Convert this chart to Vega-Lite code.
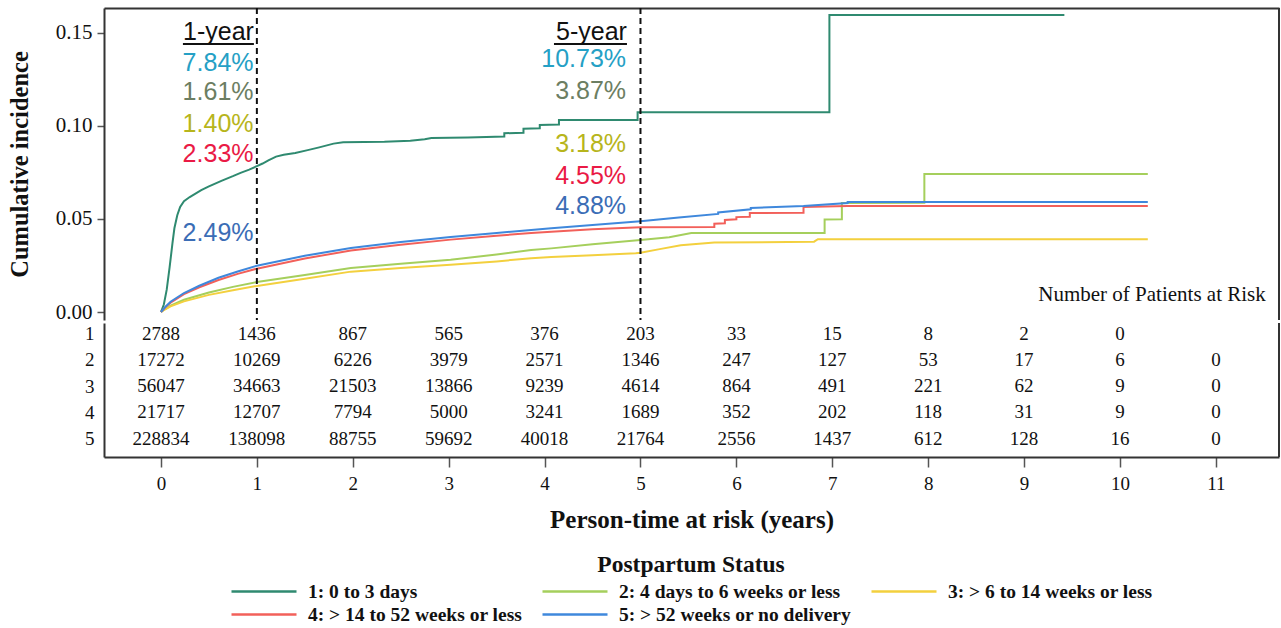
{
  "$schema": "https://vega.github.io/schema/vega-lite/v6.json",
  "background": "white",
  "padding": {"left": 7, "top": 7, "right": 0, "bottom": 2},
  "spacing": 0,
  "datasets": {
    "ci": [
      {"g":"1","t":0,"v":0},{"g":"1","t":0.03,"v":0.004},{"g":"1","t":0.06,"v":0.012},{"g":"1","t":0.09,"v":0.024},{"g":"1","t":0.12,"v":0.037},{"g":"1","t":0.14,"v":0.045},{"g":"1","t":0.17,"v":0.052},{"g":"1","t":0.2,"v":0.0565},{"g":"1","t":0.24,"v":0.0595},{"g":"1","t":0.3,"v":0.0618},{"g":"1","t":0.42,"v":0.0655},{"g":"1","t":0.5,"v":0.0675},{"g":"1","t":0.63,"v":0.0705},{"g":"1","t":0.75,"v":0.073},{"g":"1","t":0.83,"v":0.0748},{"g":"1","t":0.92,"v":0.0765},{"g":"1","t":1,"v":0.0784},{"g":"1","t":1.06,"v":0.0798},{"g":"1","t":1.12,"v":0.0815},{"g":"1","t":1.2,"v":0.0835},{"g":"1","t":1.28,"v":0.0845},{"g":"1","t":1.4,"v":0.0855},{"g":"1","t":1.53,"v":0.087},{"g":"1","t":1.65,"v":0.0885},{"g":"1","t":1.8,"v":0.0905},{"g":"1","t":1.9,"v":0.0912},{"g":"1","t":2.33,"v":0.0915},{"g":"1","t":2.6,"v":0.0921},{"g":"1","t":2.75,"v":0.0928},{"g":"1","t":2.82,"v":0.0935},{"g":"1","t":3.2,"v":0.0938},{"g":"1","t":3.58,"v":0.0943},{"g":"1","t":3.58,"v":0.0961},{"g":"1","t":3.78,"v":0.0963},{"g":"1","t":3.78,"v":0.0985},{"g":"1","t":3.95,"v":0.0988},{"g":"1","t":3.95,"v":0.1005},{"g":"1","t":4.15,"v":0.1008},{"g":"1","t":4.15,"v":0.1032},{"g":"1","t":4.97,"v":0.1032},{"g":"1","t":4.97,"v":0.1073},{"g":"1","t":5,"v":0.1073},{"g":"1","t":6.97,"v":0.1073},{"g":"1","t":6.97,"v":0.1597},{"g":"1","t":9.42,"v":0.1597},
      {"g":"2","t":0,"v":0},{"g":"2","t":0.05,"v":0.0018},{"g":"2","t":0.1,"v":0.0034},{"g":"2","t":0.24,"v":0.0066},{"g":"2","t":0.5,"v":0.0105},{"g":"2","t":0.75,"v":0.0135},{"g":"2","t":1,"v":0.0161},{"g":"2","t":1.5,"v":0.0199},{"g":"2","t":1.98,"v":0.0236},{"g":"2","t":2.5,"v":0.0259},{"g":"2","t":3.02,"v":0.0281},{"g":"2","t":3.5,"v":0.0309},{"g":"2","t":3.86,"v":0.0333},{"g":"2","t":4.07,"v":0.0342},{"g":"2","t":4.5,"v":0.0364},{"g":"2","t":5,"v":0.0387},{"g":"2","t":5.3,"v":0.0402},{"g":"2","t":5.53,"v":0.0424},{"g":"2","t":6.92,"v":0.0425},{"g":"2","t":6.92,"v":0.0497},{"g":"2","t":7.1,"v":0.0499},{"g":"2","t":7.1,"v":0.0586},{"g":"2","t":7.96,"v":0.0587},{"g":"2","t":7.96,"v":0.0742},{"g":"2","t":10.29,"v":0.0742},
      {"g":"3","t":0,"v":0},{"g":"3","t":0.05,"v":0.0016},{"g":"3","t":0.1,"v":0.003},{"g":"3","t":0.24,"v":0.0057},{"g":"3","t":0.5,"v":0.0092},{"g":"3","t":0.75,"v":0.0117},{"g":"3","t":1,"v":0.014},{"g":"3","t":1.5,"v":0.0179},{"g":"3","t":1.98,"v":0.0217},{"g":"3","t":2.5,"v":0.0236},{"g":"3","t":3.02,"v":0.0254},{"g":"3","t":3.5,"v":0.0272},{"g":"3","t":3.86,"v":0.0289},{"g":"3","t":4.07,"v":0.0296},{"g":"3","t":4.5,"v":0.0305},{"g":"3","t":4.95,"v":0.0316},{"g":"3","t":5,"v":0.0318},{"g":"3","t":5.2,"v":0.0338},{"g":"3","t":5.42,"v":0.0359},{"g":"3","t":5.77,"v":0.0373},{"g":"3","t":6.81,"v":0.0378},{"g":"3","t":6.85,"v":0.0391},{"g":"3","t":10.29,"v":0.0391},
      {"g":"4","t":0,"v":0},{"g":"4","t":0.05,"v":0.0028},{"g":"4","t":0.1,"v":0.005},{"g":"4","t":0.24,"v":0.0096},{"g":"4","t":0.4,"v":0.0133},{"g":"4","t":0.6,"v":0.0172},{"g":"4","t":0.8,"v":0.0205},{"g":"4","t":1,"v":0.0233},{"g":"4","t":1.5,"v":0.0287},{"g":"4","t":1.98,"v":0.0331},{"g":"4","t":2.5,"v":0.0362},{"g":"4","t":3.02,"v":0.0389},{"g":"4","t":3.5,"v":0.041},{"g":"4","t":3.86,"v":0.0425},{"g":"4","t":4.07,"v":0.0432},{"g":"4","t":4.5,"v":0.0445},{"g":"4","t":5,"v":0.0455},{"g":"4","t":5.77,"v":0.0457},{"g":"4","t":5.77,"v":0.0474},{"g":"4","t":5.88,"v":0.0477},{"g":"4","t":5.88,"v":0.0495},{"g":"4","t":6,"v":0.0498},{"g":"4","t":6,"v":0.051},{"g":"4","t":6.14,"v":0.0512},{"g":"4","t":6.14,"v":0.0532},{"g":"4","t":6.7,"v":0.0533},{"g":"4","t":6.7,"v":0.0565},{"g":"4","t":7.16,"v":0.057},{"g":"4","t":10.29,"v":0.057},
      {"g":"5","t":0,"v":0},{"g":"5","t":0.05,"v":0.003},{"g":"5","t":0.1,"v":0.0055},{"g":"5","t":0.24,"v":0.0102},{"g":"5","t":0.4,"v":0.0141},{"g":"5","t":0.6,"v":0.0184},{"g":"5","t":0.8,"v":0.0218},{"g":"5","t":1,"v":0.0249},{"g":"5","t":1.5,"v":0.0302},{"g":"5","t":1.98,"v":0.0344},{"g":"5","t":2.5,"v":0.0376},{"g":"5","t":3.02,"v":0.0403},{"g":"5","t":3.5,"v":0.0425},{"g":"5","t":3.86,"v":0.0441},{"g":"5","t":4.07,"v":0.045},{"g":"5","t":4.5,"v":0.0468},{"g":"5","t":5,"v":0.0488},{"g":"5","t":5.4,"v":0.0508},{"g":"5","t":5.81,"v":0.0527},{"g":"5","t":5.81,"v":0.0535},{"g":"5","t":6.15,"v":0.0552},{"g":"5","t":6.15,"v":0.0559},{"g":"5","t":6.7,"v":0.057},{"g":"5","t":7.16,"v":0.0586},{"g":"5","t":7.16,"v":0.0591},{"g":"5","t":10.29,"v":0.0591}
    ],
    "risk": [
      {"g":"1","t":0,"n":2788},{"g":"1","t":1,"n":1436},{"g":"1","t":2,"n":867},{"g":"1","t":3,"n":565},{"g":"1","t":4,"n":376},{"g":"1","t":5,"n":203},{"g":"1","t":6,"n":33},{"g":"1","t":7,"n":15},{"g":"1","t":8,"n":8},{"g":"1","t":9,"n":2},{"g":"1","t":10,"n":0},
      {"g":"2","t":0,"n":17272},{"g":"2","t":1,"n":10269},{"g":"2","t":2,"n":6226},{"g":"2","t":3,"n":3979},{"g":"2","t":4,"n":2571},{"g":"2","t":5,"n":1346},{"g":"2","t":6,"n":247},{"g":"2","t":7,"n":127},{"g":"2","t":8,"n":53},{"g":"2","t":9,"n":17},{"g":"2","t":10,"n":6},{"g":"2","t":11,"n":0},
      {"g":"3","t":0,"n":56047},{"g":"3","t":1,"n":34663},{"g":"3","t":2,"n":21503},{"g":"3","t":3,"n":13866},{"g":"3","t":4,"n":9239},{"g":"3","t":5,"n":4614},{"g":"3","t":6,"n":864},{"g":"3","t":7,"n":491},{"g":"3","t":8,"n":221},{"g":"3","t":9,"n":62},{"g":"3","t":10,"n":9},{"g":"3","t":11,"n":0},
      {"g":"4","t":0,"n":21717},{"g":"4","t":1,"n":12707},{"g":"4","t":2,"n":7794},{"g":"4","t":3,"n":5000},{"g":"4","t":4,"n":3241},{"g":"4","t":5,"n":1689},{"g":"4","t":6,"n":352},{"g":"4","t":7,"n":202},{"g":"4","t":8,"n":118},{"g":"4","t":9,"n":31},{"g":"4","t":10,"n":9},{"g":"4","t":11,"n":0},
      {"g":"5","t":0,"n":228834},{"g":"5","t":1,"n":138098},{"g":"5","t":2,"n":88755},{"g":"5","t":3,"n":59692},{"g":"5","t":4,"n":40018},{"g":"5","t":5,"n":21764},{"g":"5","t":6,"n":2556},{"g":"5","t":7,"n":1437},{"g":"5","t":8,"n":612},{"g":"5","t":9,"n":128},{"g":"5","t":10,"n":16},{"g":"5","t":11,"n":0}
    ],
    "landmarks": [{"t": 1}, {"t": 5}],
    "one": [{}]
  },
  "config": {
    "font": "Liberation Serif",
    "view": {"stroke": null},
    "concat": {"spacing": 0},
    "axis": {
      "grid": false,
      "labelFont": "Liberation Serif",
      "labelFontSize": 19,
      "labelColor": "#111",
      "titleFont": "Liberation Serif",
      "titleFontSize": 24.5,
      "titleFontWeight": "bold",
      "titleColor": "#111",
      "domain": true,
      "domainColor": "#333",
      "domainWidth": 2,
      "tickColor": "#555",
      "tickWidth": 1.5
    },
    "legend": {
      "titleFont": "Liberation Serif",
      "titleFontSize": 23.5,
      "titleFontWeight": "bold",
      "titleColor": "#111",
      "titleLimit": 0,
      "labelFont": "Liberation Serif",
      "labelFontSize": 19.5,
      "labelFontWeight": "bold",
      "labelColor": "#111",
      "labelLimit": 0,
      "layout": {"anchor": "middle"}
    }
  },
  "vconcat": [
    {
      "width": 1175,
      "height": 312,
      "layer": [
        {
          "data": {"name": "ci"},
          "mark": {"type": "line", "strokeWidth": 2, "interpolate": "linear"},
          "encoding": {
            "x": {
              "field": "t", "type": "quantitative",
              "scale": {"domain": [-0.594, 11.658], "nice": false, "zero": false},
              "axis": {"orient": "top", "labels": false, "ticks": false, "title": null}
            },
            "y": {
              "field": "v", "type": "quantitative",
              "scale": {"domain": [-0.0043, 0.1634], "nice": false, "zero": false},
              "axis": {"values": [0, 0.05, 0.1, 0.15], "format": ".2f", "title": "Cumulative incidence", "labelFontSize": 21, "tickSize": 7, "labelPadding": 5, "titlePadding": 23}
            },
            "color": {
              "field": "g", "type": "nominal",
              "scale": {"domain": ["1", "2", "3", "4", "5"], "range": ["#2f8a70", "#a5cf5c", "#f3d03e", "#f2605a", "#3f88dc"]},
              "legend": {
                "title": "Postpartum Status",
                "orient": "bottom",
                "direction": "horizontal",
                "columns": 3,
                "titleAnchor": "middle",
                "symbolType": "stroke",
                "symbolSize": 4225,
                "symbolStrokeWidth": 2.5,
                "clipHeight": 20,
                "rowPadding": 3,
                "columnPadding": 18,
                "labelOffset": 10,
                "offset": 21,
                "labelExpr": "{'1': '1: 0 to 3 days', '2': '2: 4 days to 6 weeks or less', '3': '3: > 6 to 14 weeks or less', '4': '4: > 14 to 52 weeks or less', '5': '5: > 52 weeks or no delivery'}[datum.label]"
              }
            },
            "order": [{"field": "t"}, {"field": "v"}]
          }
        },
        {
          "data": {"name": "landmarks"},
          "mark": {"type": "rule", "color": "#111", "strokeWidth": 2, "strokeDash": [6, 4]},
          "encoding": {"x": {"field": "t", "type": "quantitative"}}
        },
        {
          "data": {"name": "one"},
          "mark": {"type": "rule", "color": "#333", "strokeWidth": 2},
          "encoding": {"x": {"datum": 11.658}}
        },
        {
          "data": {"name": "one"},
          "mark": {"type": "rule", "color": "#111", "strokeWidth": 2},
          "encoding": {"x": {"datum": 0.229}, "x2": {"datum": 0.969}, "y": {"datum": 0.1441}}
        },
        {
          "data": {"name": "one"},
          "mark": {"type": "rule", "color": "#111", "strokeWidth": 2},
          "encoding": {"x": {"datum": 4.098}, "x2": {"datum": 4.859}, "y": {"datum": 0.1441}}
        },
        {
          "data": {"name": "one"},
          "mark": {"type": "text", "text": "1-year", "font": "Liberation Sans", "fontSize": 25, "color": "#111", "align": "right", "baseline": "middle"},
          "encoding": {"x": {"datum": 0.969}, "y": {"datum": 0.1505}}
        },
        {
          "data": {"name": "one"},
          "mark": {"type": "text", "text": "7.84%", "font": "Liberation Sans", "fontSize": 25, "color": "#25a0c5", "align": "right", "baseline": "middle"},
          "encoding": {"x": {"datum": 0.965}, "y": {"datum": 0.1341}}
        },
        {
          "data": {"name": "one"},
          "mark": {"type": "text", "text": "1.61%", "font": "Liberation Sans", "fontSize": 25, "color": "#6c7e62", "align": "right", "baseline": "middle"},
          "encoding": {"x": {"datum": 0.965}, "y": {"datum": 0.1183}}
        },
        {
          "data": {"name": "one"},
          "mark": {"type": "text", "text": "1.40%", "font": "Liberation Sans", "fontSize": 25, "color": "#b7b51c", "align": "right", "baseline": "middle"},
          "encoding": {"x": {"datum": 0.965}, "y": {"datum": 0.1011}}
        },
        {
          "data": {"name": "one"},
          "mark": {"type": "text", "text": "2.33%", "font": "Liberation Sans", "fontSize": 25, "color": "#ea1a45", "align": "right", "baseline": "middle"},
          "encoding": {"x": {"datum": 0.965}, "y": {"datum": 0.0849}}
        },
        {
          "data": {"name": "one"},
          "mark": {"type": "text", "text": "2.49%", "font": "Liberation Sans", "fontSize": 25, "color": "#3b6db6", "align": "right", "baseline": "middle"},
          "encoding": {"x": {"datum": 0.965}, "y": {"datum": 0.0427}}
        },
        {
          "data": {"name": "one"},
          "mark": {"type": "text", "text": "5-year", "font": "Liberation Sans", "fontSize": 25, "color": "#111", "align": "right", "baseline": "middle"},
          "encoding": {"x": {"datum": 4.859}, "y": {"datum": 0.1505}}
        },
        {
          "data": {"name": "one"},
          "mark": {"type": "text", "text": "10.73%", "font": "Liberation Sans", "fontSize": 25, "color": "#25a0c5", "align": "right", "baseline": "middle"},
          "encoding": {"x": {"datum": 4.85}, "y": {"datum": 0.1360}}
        },
        {
          "data": {"name": "one"},
          "mark": {"type": "text", "text": "3.87%", "font": "Liberation Sans", "fontSize": 25, "color": "#6c7e62", "align": "right", "baseline": "middle"},
          "encoding": {"x": {"datum": 4.85}, "y": {"datum": 0.1188}}
        },
        {
          "data": {"name": "one"},
          "mark": {"type": "text", "text": "3.18%", "font": "Liberation Sans", "fontSize": 25, "color": "#b7b51c", "align": "right", "baseline": "middle"},
          "encoding": {"x": {"datum": 4.85}, "y": {"datum": 0.0903}}
        },
        {
          "data": {"name": "one"},
          "mark": {"type": "text", "text": "4.55%", "font": "Liberation Sans", "fontSize": 25, "color": "#ea1a45", "align": "right", "baseline": "middle"},
          "encoding": {"x": {"datum": 4.85}, "y": {"datum": 0.0731}}
        },
        {
          "data": {"name": "one"},
          "mark": {"type": "text", "text": "4.88%", "font": "Liberation Sans", "fontSize": 25, "color": "#3b6db6", "align": "right", "baseline": "middle"},
          "encoding": {"x": {"datum": 4.85}, "y": {"datum": 0.0570}}
        },
        {
          "data": {"name": "one"},
          "mark": {"type": "text", "text": "Number of Patients at Risk", "font": "Liberation Serif", "fontSize": 21, "color": "#111", "align": "right", "baseline": "middle"},
          "encoding": {"x": {"datum": 11.52}, "y": {"datum": 0.0091}}
        }
      ]
    },
    {
      "width": 1175,
      "height": 134,
      "layer": [
        {
          "data": {"name": "risk"},
          "mark": {"type": "text", "font": "Liberation Serif", "fontSize": 19, "color": "#111", "baseline": "middle"},
          "encoding": {
            "x": {
              "field": "t", "type": "quantitative",
              "scale": {"domain": [-0.594, 11.658], "nice": false, "zero": false},
              "axis": {"values": [0, 1, 2, 3, 4, 5, 6, 7, 8, 9, 10, 11], "format": "d", "title": "Person-time at risk (years)", "titleFontSize": 25, "domain": true, "tickSize": 10, "labelPadding": 7, "titlePadding": 14}
            },
            "y": {
              "field": "g", "type": "ordinal",
              "scale": {"type": "point", "domain": ["1", "2", "3", "4", "5"], "padding": 0.552, "align": 0.365},
              "axis": {"title": null, "ticks": false, "labelPadding": 10}
            },
            "text": {"field": "n", "type": "quantitative", "format": "d"}
          }
        },
        {
          "data": {"name": "one"},
          "mark": {"type": "rule", "color": "#333", "strokeWidth": 2},
          "encoding": {"x": {"datum": 11.658}}
        }
      ]
    }
  ]
}
